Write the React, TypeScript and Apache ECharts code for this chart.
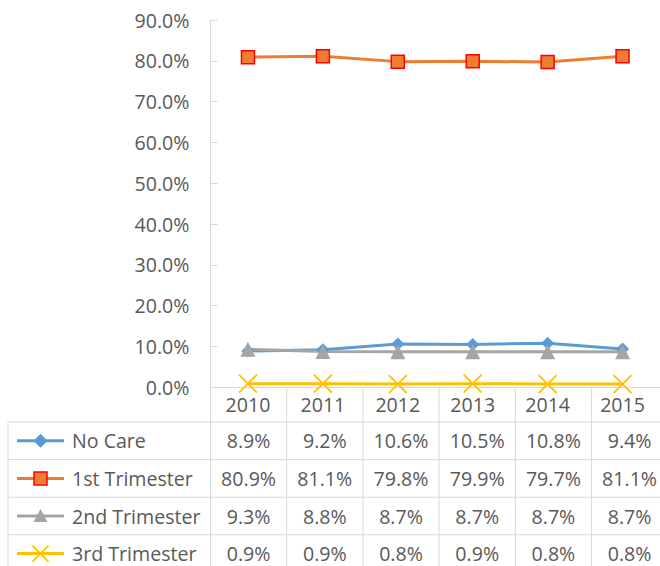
import { useEffect, useRef } from "react";
import * as echarts from "echarts";

const years = ["2010", "2011", "2012", "2013", "2014", "2015"];
const seriesNames = ["No Care", "1st Trimester", "2nd Trimester", "3rd Trimester"];
const noCare = [8.9, 9.2, 10.6, 10.5, 10.8, 9.4];
const firstTri = [80.9, 81.1, 79.8, 79.9, 79.7, 81.1];
const secondTri = [9.3, 8.8, 8.7, 8.7, 8.7, 8.7];
const thirdTri = [0.9, 0.9, 0.8, 0.9, 0.8, 0.8];
const yMin = 0;
const yMax = 90;
const yStep = 10;

const FONT = "'Open Sans', 'Liberation Sans', sans-serif";
const TXT = "#595959";
const GRID_C = "#d9d9d9";
const FS = 19.6;

const COLORS = ["#5B9BD5", "#ED7D31", "#A5A5A5", "#FFC000"];

export default function App() {
  const ref = useRef<HTMLDivElement>(null);
  useEffect(() => {
    if (!ref.current) return;
    const chart = echarts.init(ref.current, undefined, { renderer: "svg" });
    const left = 210.5;
    const colW = 76.2;
    const top = 20;
    const bottom = 387.3;
    const plotW = colW * years.length;
    const headBottom = 422;
    const rowH = 37.6;
    const tableLeft = 8;
    const H = 566;
    const allData = [noCare, firstTri, secondTri, thirdTri];

    const graphic: any[] = [];
    for (let r = 0; r <= seriesNames.length; r++) {
      const y = headBottom + r * rowH;
      graphic.push({
        type: "line",
        shape: { x1: tableLeft, y1: y, x2: left + plotW, y2: y },
        style: { stroke: GRID_C, lineWidth: 1 },
        silent: true,
      });
    }
    graphic.push({
      type: "line",
      shape: { x1: tableLeft, y1: headBottom, x2: tableLeft, y2: H },
      style: { stroke: GRID_C, lineWidth: 1 },
      silent: true,
    });
    for (let k = 0; k <= years.length; k++) {
      const x = left + k * colW;
      graphic.push({
        type: "line",
        shape: { x1: x, y1: bottom, x2: x, y2: H },
        style: { stroke: GRID_C, lineWidth: 1 },
        silent: true,
      });
    }
    seriesNames.forEach((name, r) => {
      const cy = headBottom + (r + 0.5) * rowH;
      const c = COLORS[r];
      graphic.push({
        type: "line",
        shape: { x1: 17, y1: cy, x2: 64, y2: cy },
        style: { stroke: c, lineWidth: 3 },
        silent: true,
      });
      const sx = 40.5;
      if (r === 0) {
        graphic.push({
          type: "polygon",
          shape: { points: [[sx, cy - 7], [sx + 7, cy], [sx, cy + 7], [sx - 7, cy]] },
          style: { fill: c },
        });
      } else if (r === 1) {
        graphic.push({
          type: "rect",
          shape: { x: sx - 6.5, y: cy - 6.5, width: 13, height: 13 },
          style: { fill: c, stroke: "#FF0000", lineWidth: 1.5 },
        });
      } else if (r === 2) {
        graphic.push({
          type: "polygon",
          shape: { points: [[sx, cy - 7], [sx + 7, cy + 6], [sx - 7, cy + 6]] },
          style: { fill: c },
        });
      } else {
        graphic.push({
          type: "line",
          shape: { x1: sx - 8, y1: cy - 8, x2: sx + 8, y2: cy + 8 },
          style: { stroke: c, lineWidth: 1.8 },
        });
        graphic.push({
          type: "line",
          shape: { x1: sx + 8, y1: cy - 8, x2: sx - 8, y2: cy + 8 },
          style: { stroke: c, lineWidth: 1.8 },
        });
      }
      graphic.push({
        type: "text",
        x: 72,
        y: cy,
        style: {
          text: name,
          fill: TXT,
          font: `${FS}px ${FONT}`,
          textAlign: "left",
          textVerticalAlign: "middle",
        },
      });
      allData[r].forEach((v, i) => {
        graphic.push({
          type: "text",
          x: left + (i + 0.5) * colW,
          y: cy,
          style: {
            text: v.toFixed(1) + "%",
            fill: TXT,
            font: `${FS}px ${FONT}`,
            textAlign: "center",
            textVerticalAlign: "middle",
          },
        });
      });
    });

    const xSymbol = "path://M0 0L20 20M20 0L0 20";

    chart.setOption({
      animation: false,
      grid: { left, top, width: plotW, height: bottom - top, containLabel: false },
      xAxis: {
        type: "category",
        data: years,
        boundaryGap: true,
        axisLine: { show: true, lineStyle: { color: GRID_C, width: 1 } },
        axisTick: { show: false },
        axisLabel: { color: TXT, fontFamily: FONT, fontSize: FS, margin: 7 },
      },
      yAxis: {
        type: "value",
        min: yMin,
        max: yMax,
        interval: yStep,
        axisLine: { show: true, lineStyle: { color: GRID_C, width: 1 } },
        axisTick: { show: true, inside: true, length: 7, lineStyle: { color: GRID_C } },
        splitLine: { show: false },
        axisLabel: {
          color: TXT,
          fontFamily: FONT,
          fontSize: FS,
          margin: 21,
          formatter: (v: number) => v.toFixed(1) + "%",
        },
      },
      series: [
        {
          name: seriesNames[0],
          type: "line",
          data: noCare,
          symbol: "diamond",
          symbolSize: 13,
          lineStyle: { color: COLORS[0], width: 3 },
          itemStyle: { color: COLORS[0] },
        },
        {
          name: seriesNames[1],
          type: "line",
          data: firstTri,
          symbol: "rect",
          symbolSize: 13,
          lineStyle: { color: COLORS[1], width: 3 },
          itemStyle: { color: COLORS[1], borderColor: "#FF0000", borderWidth: 1.5 },
        },
        {
          name: seriesNames[2],
          type: "line",
          data: secondTri,
          symbol: "triangle",
          symbolSize: 15,
          lineStyle: { color: COLORS[2], width: 3 },
          itemStyle: { color: COLORS[2] },
        },
        {
          name: seriesNames[3],
          type: "line",
          data: thirdTri,
          symbol: xSymbol,
          symbolSize: 18,
          lineStyle: { color: COLORS[3], width: 3 },
          itemStyle: { color: "none", borderColor: COLORS[3], borderWidth: 1.8 },
        },
      ],
      graphic,
    });
    return () => chart.dispose();
  }, []);
  return (
    <div
      ref={ref}
      style={{ position: "absolute", left: 0, top: 0, width: 660, height: 566, background: "#fff" }}
    />
  );
}
